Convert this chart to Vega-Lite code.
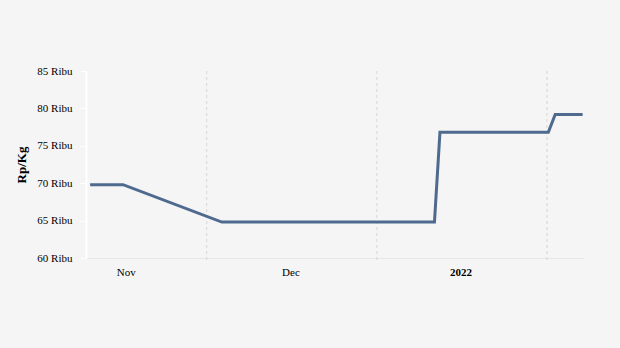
{
  "$schema": "https://vega.github.io/schema/vega-lite/v6.json",
  "autosize": "none",
  "width": 498,
  "height": 187,
  "padding": {"left": 86, "top": 71, "right": 36, "bottom": 90},
  "background": "#f5f5f5",
  "config": {
    "view": {"stroke": null},
    "font": "Liberation Serif"
  },
  "datasets": {
    "harga": [
      {"tanggal": "2021-10-25T12:00:00", "harga": 69800},
      {"tanggal": "2021-10-31T12:00:00", "harga": 69800},
      {"tanggal": "2021-11-18T12:00:00", "harga": 64800},
      {"tanggal": "2021-12-27T06:00:00", "harga": 64800},
      {"tanggal": "2021-12-28T06:00:00", "harga": 76800},
      {"tanggal": "2022-01-17T00:00:00", "harga": 76800},
      {"tanggal": "2022-01-18T06:00:00", "harga": 79200},
      {"tanggal": "2022-01-23T06:00:00", "harga": 79200}
    ],
    "grid": [
      {"tanggal": "2021-11-15T18:00:00"},
      {"tanggal": "2021-12-16T18:00:00"},
      {"tanggal": "2022-01-16T18:00:00"}
    ]
  },
  "layer": [
    {
      "data": {"name": "grid"},
      "mark": {"type": "rule", "color": "#d6d6d6", "strokeDash": [3, 3], "strokeWidth": 1, "y2": 191, "y": 0},
      "encoding": {
        "x": {"field": "tanggal", "type": "temporal"}
      }
    },
    {
      "data": {"name": "harga"},
      "mark": {"type": "line", "color": "#4f6a8f", "strokeWidth": 3},
      "encoding": {
        "x": {
          "field": "tanggal",
          "type": "temporal",
          "scale": {"domain": ["2021-10-24T18:00:00", "2022-01-23T12:00:00"]},
          "axis": {
            "title": null,
            "values": ["2021-11-01T00:00:00", "2021-12-01T00:00:00", "2022-01-01T00:00:00"],
            "labelExpr": "month(datum.value) == 0 ? timeFormat(datum.value, '%Y') : timeFormat(datum.value, '%b')",
            "labelFontWeight": {"expr": "month(datum.value) == 0 ? 'bold' : 'normal'"},
            "grid": false,
            "ticks": false,
            "domainColor": "#e6e6e6",
            "domainWidth": 1,
            "labelFontSize": 11,
            "labelColor": "#000000",
            "labelPadding": 8,
            "labelFont": "Liberation Serif"
          }
        },
        "y": {
          "field": "harga",
          "type": "quantitative",
          "scale": {"domain": [60000, 85000]},
          "axis": {
            "title": "Rp/Kg",
            "titleFontWeight": "bold",
            "titleFontSize": 13,
            "titleFont": "Liberation Serif",
            "titleColor": "#000000",
            "titlePadding": 8,
            "values": [60000, 65000, 70000, 75000, 80000, 85000],
            "labelExpr": "(datum.value / 1000) + ' Ribu'",
            "grid": false,
            "domainColor": "#ffffff",
            "domainWidth": 2,
            "tickColor": "#ffffff",
            "tickSize": 6,
            "tickWidth": 1,
            "labelFontSize": 11,
            "labelColor": "#000000",
            "labelPadding": 8,
            "labelFont": "Liberation Serif"
          }
        }
      }
    }
  ]
}
